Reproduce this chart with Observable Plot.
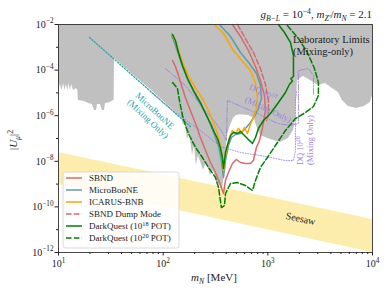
<!DOCTYPE html>
<html><head><meta charset="utf-8">
<script src="https://cdn.jsdelivr.net/npm/d3@7"></script>
<script src="https://cdn.jsdelivr.net/npm/@observablehq/plot@0.6"></script>
<style>body{margin:0;background:#fff;} svg{display:block}</style>
</head><body><div id="chart"></div>
<script>
// ---- tick values ----
const xMajor = [10, 100, 1000, 10000];
const xMinor = [20,30,40,50,60,70,80,90,200,300,400,500,600,700,800,900,2000,3000,4000,5000,6000,7000,8000,9000];
const yMajor = [1e-12, 1e-10, 1e-8, 1e-6, 1e-4, 1e-2];
const yMinor = [1e-11, 1e-9, 1e-7, 1e-5, 1e-3];

// ---- seesaw band ----
const seesawX = [10, 10000];
const seesawHi = [2.43e-8, 2.8e-11];
const seesawLo = [9.6e-10, 1e-12];

// ---- laboratory limits (lower edge of excluded region) ----
const labX = [10,10.45,10.8,11.2,11.5,11.9,12.3,12.6,13.0,13.4,13.9,14.9,15.3,15.5,17.7,19.4,21.1,22.1,23.1,23.6,25.2,26.3,27.5,28.1,31.4,33.5,34.0,34.3,48.7,75.7,105,146,150,156,163,171,178,191,199,208,217,243,259,283,302,330,352,368,385,402,411,440,469,501,548,653,745,778,850,1059,1320,1574,1757,1836,1877,1918,2188,2554,3043,3548,4140,4724,5160,5890,7020,8370,9550,10000];
const labY = [1.56e-5,2.33e-5,1.27e-5,2.58e-5,1.27e-5,2.33e-5,1.27e-5,2.58e-5,1.27e-5,2.33e-5,1.27e-5,1.56e-5,1.27e-5,4.64e-6,4.2e-6,3.43e-6,3.1e-6,1.69e-6,1.69e-6,3.1e-6,3.1e-6,1.69e-6,1.69e-6,3.43e-6,3.79e-6,4.64e-6,4.64e-6,3.23e-4,7.85e-5,1.4e-5,3.6e-6,9.5e-7,8.3e-7,3.72e-7,5.0e-7,8.2e-8,1.83e-7,1.8e-8,4.93e-8,6.5e-9,1.8e-8,3.95e-9,8.85e-9,2.38e-9,3.95e-9,1.17e-9,8.7e-10,5.24e-10,2.38e-9,4.93e-8,1.35e-7,3.72e-7,7.53e-7,1.02e-6,1.1e-6,1.02e-6,7.53e-7,3.72e-7,1.35e-7,9.0e-8,6.68e-8,1.0e-7,2.24e-7,6.15e-7,4.64e-6,3.5e-5,5.24e-5,3.5e-5,2.11e-5,2.58e-5,1.56e-5,1.04e-5,4.64e-6,2.53e-6,2.07e-6,2.53e-6,3.79e-6,7.7e-6];

// ---- mixing-only projections ----
const ubMixX = [19.8, 182];
const ubMixY = [2.69e-3, 3.36e-7];
const dq18MixX = [105,163,243,316,368,402,411,796,1236,1644,1960,1960,2444,2729,2729];
const dq18MixY = [1.17e-4,2.11e-5,2.07e-6,5.03e-7,1.83e-7,8.2e-8,4.64e-6,1.25e-6,4.55e-7,3.72e-7,4.55e-7,9.6e-5,1.17e-4,5.8e-5,7.69e-6];
const dq20MixX = [75.7,131,227,352,548,850,1473,1757,1836,1836,1877];
const dq20MixY = [1.1e-5,1.38e-6,2.24e-7,4.45e-8,2.43e-8,1.8e-8,1.08e-8,1.08e-8,2.98e-8,4.64e-6,1.13e-5];

// ---- B-L sensitivity curves ----
const sbndX = [123,131,140,150,163,182,204,227,254,283,316,345,368,377,394,420,459,501,548,611,682,728,778,832,888,949,929,850,762,653,548,459];
const sbndY = [2.64e-4,1.44e-4,5.8e-5,2.11e-5,6.28e-6,1.69e-6,4.55e-7,1.11e-7,2.98e-8,8.85e-9,3.23e-9,1.17e-9,5.24e-10,3.87e-10,1.44e-9,3.23e-9,8.0e-9,1.2e-8,8.85e-9,8.0e-9,8.0e-9,1.08e-8,4.03e-8,8.2e-8,2.75e-7,1.69e-6,7.69e-6,3.5e-5,1.44e-4,7.24e-4,2.98e-3,1e-2];
const dumpX = [513,611,728,850,949,1013,1013,970];
const dumpY = [1e-2,2.43e-3,5.92e-4,1.17e-4,2.33e-5,4.64e-6,1.02e-6,6.15e-7];
const ubX = [120,128,140,153,171,195,222,254,283,309,338,360,377,394,420,449,491,548,611,682,762,813,869,850,778,667,548,440,345];
const ubY = [3.29e-3,1.63e-3,4.83e-4,1.44e-4,3.87e-5,1.15e-5,3.79e-6,1.25e-6,4.11e-7,1.5e-7,4.45e-8,1.08e-8,1.95e-9,1.08e-8,4.93e-8,1.11e-7,1.5e-7,1.66e-7,2.75e-7,5.03e-7,1.13e-6,2.07e-6,5.68e-6,2.11e-5,7.1e-5,1.95e-4,5.92e-4,2.98e-3,1e-2];
const icX = [120,128,140,156,178,208,243,271,302,330,352,368,377,394,411,430,459,491,524,560,598,638,682,728,778,796,762,682,585,469,377,309];
const icY = [4.03e-3,2.43e-3,7.24e-4,1.76e-4,4.73e-5,1.41e-5,4.64e-6,1.69e-6,5.03e-7,1.66e-7,4.93e-8,1.33e-8,3.95e-9,1.8e-8,4.93e-8,1.11e-7,2.24e-7,1.66e-7,2.75e-7,1.83e-7,3.03e-7,1.66e-7,4.11e-7,8.3e-7,2.07e-6,6.28e-6,2.58e-5,9.6e-5,2.15e-4,7.24e-4,4.03e-3,1e-2];
const dq18X = [123,131,140,153,171,195,227,254,283,309,330,352,368,377,394,411,440,469,513,548,585,638,713,762,813,908,1059,1263,1473,1607,1719,1660,1757,1757,1757,1644,1442,1263];
const dq18Y = [3.64e-3,1.99e-3,5.92e-4,1.59e-4,4.28e-5,1.27e-5,3.79e-6,1.25e-6,4.55e-7,1.83e-7,1.0e-7,4.03e-8,1.47e-8,4.83e-9,2.43e-8,4.93e-8,1.35e-7,1.83e-7,1.66e-7,2.03e-7,1.5e-7,1.0e-7,6.04e-8,1.11e-7,2.75e-7,6.15e-7,1.25e-6,3.79e-6,1.04e-5,2.33e-5,3.3e-5,4.2e-5,5.24e-5,1.59e-4,4.37e-4,1.63e-3,4.46e-3,1e-2];
const dq20X = [123,137,143,153,163,178,204,237,271,316,338,352,360,385,394,440,513,611,713,762,850,991,1182,1473,1836,2287,2729,3043,3043,2789,2388,1960,1507];
const dq20Y = [2.86e-5,1.56e-5,4.64e-6,1.02e-6,3.72e-7,1.35e-7,4.03e-8,1.47e-8,5.35e-9,1.95e-9,7.1e-10,1.91e-10,9.4e-11,1.15e-10,3.87e-10,1.06e-9,1.17e-9,8.7e-10,5.24e-10,1.44e-9,5.35e-9,1.47e-8,4.93e-8,2.24e-7,7.53e-7,1.38e-6,2.53e-6,7.69e-6,2.86e-5,1.17e-4,5.92e-4,2.43e-3,1e-2];

// ---- build tables ----
const rows = (xs, ys) => xs.map((x, i) => ({x, y: ys[i]}));
const seesaw = seesawX.map((x, i) => ({x, lo: seesawLo[i], hi: seesawHi[i]}));
const lab = rows(labX, labY);

const FONT = "'Liberation Serif', 'DejaVu Serif', serif";
const C = {red: "#d9696b", teal: "#5f9ea0", orange: "#ffa500", green: "#008000", purple: "#9a80e0", cyan: "#2aa5a5"};
const curves = [
  {label: "SBND", x: sbndX, y: sbndY, stroke: C.red, dash: null, w: 1.5},
  {label: "MicroBooNE", x: ubX, y: ubY, stroke: C.teal, dash: null, w: 1.5},
  {label: "ICARUS-BNB", x: icX, y: icY, stroke: C.orange, dash: null, w: 1.5},
  {label: "SBND Dump Mode", x: dumpX, y: dumpY, stroke: C.red, dash: "5.5,2.4", w: 1.5},
  {label: "DarkQuest (10^18 POT)", x: dq18X, y: dq18Y, stroke: C.green, dash: null, w: 1.5},
  {label: "DarkQuest (10^20 POT)", x: dq20X, y: dq20Y, stroke: C.green, dash: "5.5,2.4", w: 1.5}
];
const drawOrder = [3, 0, 1, 2, 5, 4];
const fmtPow = d => "10^" + Math.round(Math.log10(d));

const chart = Plot.plot({
  width: 390, height: 293,
  marginLeft: 58, marginRight: 18, marginTop: 24, marginBottom: 41,
  style: {fontFamily: FONT, fontSize: "10px", background: "#fff", color: "#222"},
  x: {type: "log", domain: [10, 1e4], label: null},
  y: {type: "log", domain: [1e-12, 1e-2], label: null},
  marks: [
    Plot.areaY(seesaw, {x: "x", y1: "lo", y2: "hi", fill: "#fbd84a", fillOpacity: 0.45}),
    Plot.areaY(lab, {x: "x", y1: "y", y2: () => 1e-2, fill: "#c0c0c0"}),
    Plot.line(rows(dq20MixX, dq20MixY), {x: "x", y: "y", stroke: C.purple, strokeWidth: 1, strokeDasharray: "1,1.6", strokeOpacity: 0.85}),
    Plot.line(rows(dq18MixX, dq18MixY), {x: "x", y: "y", stroke: C.purple, strokeWidth: 1, strokeDasharray: "6,1.6,1,1.6", strokeOpacity: 0.85}),
    Plot.line(rows(ubMixX, ubMixY), {x: "x", y: "y", stroke: C.cyan, strokeWidth: 1.3, strokeDasharray: "1.3,1.8"}),
    ...drawOrder.map(i => Plot.line(rows(curves[i].x, curves[i].y), {x: "x", y: "y", stroke: curves[i].stroke, strokeWidth: curves[i].w, strokeDasharray: curves[i].dash})),
    Plot.frame({stroke: "#333", strokeWidth: 0.9}),
    Plot.axisX(xMajor, {tickSize: 3.5, tickPadding: 4, tickFormat: fmtPow, fontSize: 10, label: null}),
    Plot.axisX(xMinor, {tickSize: 2, tickFormat: () => "", label: null}),
    Plot.axisY(yMajor, {tickSize: 3.5, tickPadding: 1.5, tickFormat: fmtPow, fontSize: 10, label: null}),
    Plot.axisY(yMinor, {tickSize: 2, tickFormat: () => "", label: null})
  ]
});
document.getElementById("chart").appendChild(chart);

const svg = d3.select(chart);
// superscripted tick labels
svg.selectAll('g[aria-label="x-axis tick label"] text, g[aria-label="y-axis tick label"] text').each(function () {
  const s = this.textContent;
  if (!s.includes("^")) return;
  const [b, e] = s.split("^");
  const t = d3.select(this);
  t.text(null);
  t.append("tspan").text(b);
  t.append("tspan").attr("dy", "-0.6em").attr("font-size", "0.72em").text(e.replace("-", "\u2212"));
});

// rich text helper
function rich(g, x, y, parts, o = {}) {
  const fs = o.size || 10;
  const t = g.append("text").attr("x", x).attr("y", y)
    .attr("font-family", FONT).attr("font-size", fs)
    .attr("fill", o.fill || "#222").attr("text-anchor", o.anchor || "start");
  if (o.rotate) t.attr("transform", `rotate(${o.rotate},${x},${y})`);
  let shift = 0;
  for (const [s, k] of parts) {
    const ts = t.append("tspan").text(s);
    let target = 0;
    if (k && k.includes("sup")) { target = -0.38 * fs; ts.attr("font-size", fs * 0.7); }
    if (k && k.includes("sub")) { target = 0.25 * fs; ts.attr("font-size", fs * 0.7); }
    if (k && k.includes("i")) ts.attr("font-style", "italic");
    if (target - shift !== 0) ts.attr("dy", target - shift);
    shift = target;
  }
  return t;
}
const sx = chart.scale("x"), sy = chart.scale("y");
const X = v => sx.apply(v), Y = v => sy.apply(v);
const g = svg.append("g");

// title & axis labels
rich(g, 372, 18, [["g", "i"], ["B\u2212L", "isub"], [" = 10", ""], ["\u22124", "sup"], [", ", ""], ["m", "i"], ["Z\u2032", "isub"], ["/", ""], ["m", "i"], ["N", "isub"], [" = 2.1", ""]], {size: 11, anchor: "end"});
rich(g, 214, 281, [["m", "i"], ["N", "isub"], [" [MeV]", ""]], {size: 11, anchor: "middle"});
rich(g, 17, 140, [["|", ""], ["U", "i"], ["\u03bc", "isub"], ["|", ""], ["2", "sup"]], {size: 11, anchor: "middle", rotate: -90});

// annotations (anchored in data coordinates)
rich(g, X(1758), Y(1.47e-3), [["Laboratory Limits", ""]], {size: 10.5});
rich(g, X(1758), Y(4.37e-4), [["(Mixing-only)", ""]], {size: 10.5});
rich(g, X(80.7), Y(1.25e-6), [["MicroBooNE", ""]], {size: 9, fill: C.cyan, anchor: "middle", rotate: 43});
rich(g, X(69.2), Y(5.57e-7), [["(Mixing Only)", ""]], {size: 9, fill: C.cyan, anchor: "middle", rotate: 43});
rich(g, X(888), Y(7.69e-6), [["DQ 10", ""], ["18", "sup"]], {size: 8.5, fill: C.purple, anchor: "middle", rotate: 25});
rich(g, X(991), Y(1.38e-6), [["(Mixing Only)", ""]], {size: 8.5, fill: C.purple, anchor: "middle", rotate: 25});
rich(g, X(2188), Y(6.5e-9), [["DQ 10", ""], ["20", "sup"]], {size: 8.5, fill: C.purple, anchor: "start", rotate: -90});
rich(g, X(2729), Y(6.5e-9), [["(Mixing Only)", ""]], {size: 8.5, fill: C.purple, anchor: "start", rotate: -90});
rich(g, X(2049), Y(2.07e-11), [["Seesaw", ""]], {size: 10, anchor: "middle", rotate: 12});

// legend
const L = svg.append("g");
L.append("rect").attr("x", 63).attr("y", 172).attr("width", 116).attr("height", 76).attr("rx", 2.5)
  .attr("fill", "#fff").attr("fill-opacity", 0.85).attr("stroke", "#d0d0d0").attr("stroke-width", 0.8);
curves.forEach((c, i) => {
  const yy = 178 + i * 12;
  L.append("line").attr("x1", 66).attr("x2", 82).attr("y1", yy).attr("y2", yy)
    .attr("stroke", c.stroke).attr("stroke-width", c.w).attr("stroke-dasharray", c.dash);
  const parts = c.label.includes("^")
    ? [[c.label.split("(10^")[0] + "(10", ""], [c.label.split("^")[1].slice(0, 2), "sup"], [" POT)", ""]]
    : [[c.label, ""]];
  rich(L, 89, yy + 3, parts, {size: 9});
});
</script></body></html>
